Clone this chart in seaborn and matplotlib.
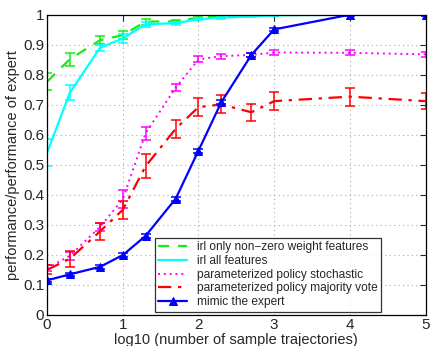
import numpy as np
import pandas as pd
import matplotlib
matplotlib.use("Agg")
import matplotlib.pyplot as plt
import seaborn as sns

# ==========================================
# DATA
# ==========================================

log_n = [0, 0.301, 0.699, 1, 1.301, 1.699, 2, 2.301, 2.699, 3, 4, 5]

irl_nonzero = [0.777, 0.852, 0.915, 0.932, 0.977, 0.978, 0.990, 0.995, 0.997, 0.999, 1.0, 1.0]
irl_nonzero_err = [0.028, 0.022, 0.014, 0.014, 0.010, 0.006, 0.004, 0.003, 0.002, 0.002, 0.001, 0.001]

irl_all = [0.540, 0.740, 0.890, 0.921, 0.968, 0.972, 0.985, 0.990, 0.994, 0.998, 1.0, 1.0]
irl_all_err = [0.045, 0.025, 0.010, 0.015, 0.008, 0.005, 0.004, 0.003, 0.002, 0.002, 0.001, 0.001]

stochastic = [0.155, 0.197, 0.293, 0.385, 0.605, 0.757, 0.851, 0.862, 0.866, 0.874, 0.873, 0.868]
stochastic_err = [0.010, 0.013, 0.012, 0.030, 0.022, 0.012, 0.010, 0.008, 0.008, 0.008, 0.008, 0.008]

majority = [0.150, 0.187, 0.278, 0.350, 0.495, 0.620, 0.692, 0.701, 0.675, 0.712, 0.727, 0.712]
majority_err = [0.015, 0.026, 0.028, 0.030, 0.040, 0.030, 0.031, 0.030, 0.028, 0.030, 0.030, 0.026]

mimic = [0.115, 0.135, 0.160, 0.199, 0.263, 0.387, 0.547, 0.708, 0.866, 0.951, 1.0, 1.0]
mimic_err = [0.006, 0.006, 0.006, 0.006, 0.006, 0.006, 0.007, 0.007, 0.007, 0.006, 0.004, 0.004]

labels = [
    "irl only non\u2212zero weight features",
    "irl all features",
    "parameterized policy stochastic",
    "parameterized policy majority vote",
    "mimic the expert",
]

# ==========================================
# STYLE
# ==========================================

sns.set_style("white")
plt.rcParams["font.family"] = ["Liberation Sans", "DejaVu Sans"]
plt.rcParams["xtick.direction"] = "in"
plt.rcParams["ytick.direction"] = "in"

fig = plt.figure(figsize=(4.32, 3.46), dpi=100)
ax = fig.add_axes([0.109, 0.09, 0.876, 0.8675])

series = [
    (irl_nonzero, irl_nonzero_err, "#11ee11", (0, (5, 4)), None, 1.6),
    (irl_all, irl_all_err, "#00ffff", "-", None, 1.6),
    (stochastic, stochastic_err, "#ff00ff", (0, (1, 2)), None, 1.4),
    (majority, majority_err, "#ff0000", (0, (6, 3, 1.5, 3)), None, 1.6),
    (mimic, mimic_err, "#0000ff", "-", "^", 1.6),
]

for (vals, errs, col, ls, mk, lw), lab in zip(series, labels):
    sns.lineplot(x=log_n, y=vals, ax=ax, color=col, linestyle=ls,
                 linewidth=lw, marker=mk, markersize=6,
                 markeredgecolor=col, label=lab)
    ax.errorbar(log_n, vals, yerr=errs, fmt="none", ecolor=col,
                elinewidth=1.1, capsize=3.8, capthick=1.1)

# ==========================================
# AXES
# ==========================================

ax.set_xlim(0, 5)
ax.set_ylim(0, 1)
ax.set_xticks(range(6))
yt = np.round(np.arange(0, 1.01, 0.1), 1)
ax.set_yticks(yt)
ax.set_yticklabels(["0"] + [f"{v:g}" for v in yt[1:-1]] + ["1"])
ax.tick_params(labelsize=11, length=4, top=True, right=True, pad=2)
ax.grid(True, linestyle=(0, (1, 3)), color="#aaaaaa", linewidth=0.8)
for sp in ax.spines.values():
    sp.set_color("black")
    sp.set_linewidth(0.9)

ax.set_xlabel("log10 (number of sample trajectories)", fontsize=10.5, labelpad=1)
ax.set_ylabel("performance/performance of expert", fontsize=10.5, labelpad=2)

leg = ax.legend(loc="lower right", bbox_to_anchor=(0.882, 0.01),
                fontsize=8.6, frameon=True, fancybox=False,
                handlelength=2.4, borderpad=0.3, labelspacing=0.15,
                handletextpad=0.8, borderaxespad=0)
leg.get_frame().set_edgecolor("black")
leg.get_frame().set_linewidth(0.9)

plt.savefig("out.png", dpi=100)
